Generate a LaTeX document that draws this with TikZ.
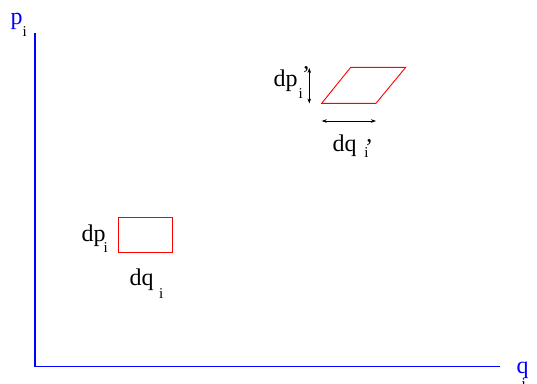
\documentclass[tikz,border=0pt]{standalone}
\usepackage{fontspec}
\setmainfont{Liberation Serif}
\usetikzlibrary{arrows.meta}
\tikzset{
  lbl/.style={anchor=base west,inner sep=0pt,outer sep=0pt,font=\fontsize{24}{24}\selectfont},
  sub/.style={anchor=base west,inner sep=0pt,outer sep=0pt,font=\fontsize{15}{15}\selectfont},
  axis/.style={draw=blue,line width=1.2pt},
  cell/.style={draw=red,line width=0.9pt},
  dim/.style={draw=black,line width=0.7pt,{Stealth[length=5pt,width=3.5pt]}-{Stealth[length=5pt,width=3.5pt]}}
}
\begin{document}
\begin{tikzpicture}[x=1pt,y=-1pt]
\useasboundingbox (0,0) rectangle (537,383);
% axes
\coordinate (O) at (35,366.5);
\coordinate (Ytop) at (35,33);
\coordinate (Xend) at (500,366.5);
\draw[axis] (Ytop) -- (O) -- (Xend);
\node[lbl,blue] (pp) at (10.5,24) {p};
\node[sub] (pi) at (22.5,36) {i};
\node[lbl,blue] (qq) at (516.5,373.7) {q};
\node[sub] (qi) at (521.5,388) {i};
% small rectangle
\coordinate (R1) at (118.5,217.5);
\coordinate (R2) at (172.5,252.5);
\draw[cell] (R1) rectangle (R2);
\node[lbl] (dp) at (81.5,241.1) {dp};
\node[sub] (dpi) at (103.7,252) {i};
\node[lbl] (dq) at (129.5,285.1) {dq};
\node[sub] (dqi) at (159,298) {i};
% parallelogram
\coordinate (P1) at (321.7,103.3);
\coordinate (P2) at (376,103.3);
\coordinate (P3) at (405.7,67.3);
\coordinate (P4) at (350.7,67.3);
\draw[cell,line join=miter] (P1) -- (P2) -- (P3) -- (P4) -- cycle;
\coordinate (V1) at (309.3,68);
\coordinate (V2) at (309.3,103.5);
\draw[dim] (V1) -- (V2);
\coordinate (H1) at (321.7,121);
\coordinate (H2) at (376,121);
\draw[dim] (H1) -- (H2);
\node[lbl] (dpp) at (273.5,86.4) {dp};
\node[lbl] (dppr) at (302,82.9) {'};
\node[sub] (dppi) at (298.7,98.3) {i};
\node[lbl] (dqp) at (332.5,151.1) {dq};
\node[lbl] (dqpr) at (365,155.2) {'};
\node[sub] (dqpi) at (364.4,157.3) {i};
\end{tikzpicture}
\end{document}
